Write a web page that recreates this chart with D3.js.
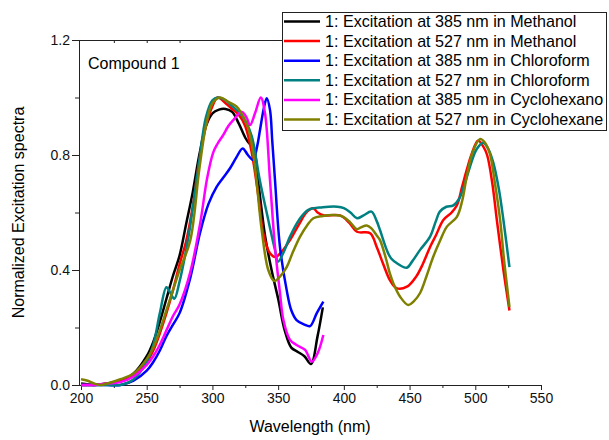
<!DOCTYPE html>
<html>
<head>
<meta charset="utf-8">
<script src="https://cdn.jsdelivr.net/npm/d3@7"></script>
<style>
  body { margin: 0; background: #fff; }
  svg { font-family: Arial, "Liberation Sans", sans-serif; }
</style>
</head>
<body>
<svg id="chart"></svg>
<script>
const width = 609;
const height = 440;

// wavelength (nm), normalized intensity
const black385Methanol = [[200,0.005],[210,0.0],[220,0.005],[230,0.015],[240,0.04],[250,0.1],[255,0.15],[260,0.22],[265,0.3],[270,0.38],[275,0.45],[280,0.56],[285,0.67],[290,0.8],[295,0.9],[300,0.945],[305,0.958],[310,0.96],[315,0.95],[320,0.91],[325,0.86],[328,0.84],[331,0.83],[335,0.7],[340,0.52],[345,0.4],[350,0.3],[355,0.19],[360,0.13],[365,0.115],[370,0.1],[375,0.073],[380,0.17],[384,0.27]];
const red527Methanol = [[200,0.0],[210,0.0],[220,0.005],[230,0.015],[240,0.035],[250,0.08],[255,0.12],[260,0.18],[265,0.25],[270,0.33],[275,0.42],[280,0.5],[285,0.62],[290,0.78],[295,0.9],[300,0.97],[304,1.0],[310,0.98],[315,0.96],[320,0.94],[325,0.9],[330,0.806],[335,0.655],[338.7,0.528],[343.8,0.458],[348,0.445],[352,0.46],[359,0.504],[366,0.56],[372,0.603],[376.8,0.615],[380,0.6],[385,0.59],[397,0.59],[404,0.565],[410,0.533],[420,0.528],[425,0.48],[430,0.42],[435,0.365],[440,0.337],[448,0.342],[455,0.377],[460,0.42],[465.6,0.48],[470,0.52],[475.7,0.574],[482,0.6],[486,0.625],[490,0.69],[493.5,0.748],[497,0.8],[502,0.85],[506,0.83],[509,0.8],[513,0.7],[516.4,0.574],[521.4,0.4],[526,0.259]];
const blue385Chloroform = [[200,0.0],[210,0.0],[220,0.0],[230,0.0],[240,0.015],[250,0.05],[255,0.08],[260,0.12],[265,0.17],[270,0.21],[275,0.25],[283,0.37],[290.6,0.53],[297,0.63],[303.3,0.69],[308,0.72],[313.4,0.754],[318,0.79],[323,0.823],[327,0.8],[331,0.783],[334,0.83],[336.2,0.887],[339,0.96],[341.3,0.997],[343.8,0.957],[345.5,0.85],[347.6,0.713],[351.4,0.48],[356.5,0.33],[360,0.26],[364,0.226],[370,0.21],[374.3,0.205],[379.4,0.25],[384.4,0.29]];
const teal527Chloroform = [[200,0.0],[210,0.0],[220,0.0],[230,0.0],[240,0.02],[250,0.08],[255,0.14],[260,0.25],[265,0.34],[268,0.32],[271,0.3],[275,0.36],[280,0.47],[283,0.55],[290,0.78],[295,0.93],[300,0.99],[304,1.0],[310,0.99],[315,0.97],[321,0.945],[326,0.91],[330,0.864],[336,0.713],[342.5,0.574],[347.6,0.47],[350,0.429],[354,0.46],[359,0.516],[366,0.575],[373,0.609],[384,0.618],[395,0.62],[400,0.615],[405,0.6],[410,0.58],[415,0.59],[421,0.603],[425,0.57],[427.5,0.539],[432.6,0.47],[436,0.44],[441.5,0.42],[447.9,0.408],[452,0.43],[458,0.47],[465.6,0.516],[470,0.57],[473,0.603],[478,0.62],[483.3,0.625],[488,0.65],[492,0.7],[496,0.76],[501,0.82],[506,0.843],[510,0.82],[513.8,0.772],[518,0.68],[521.4,0.574],[526,0.41]];
const magenta385Cyclohexane = [[200,0.0],[210,0.0],[220,0.005],[230,0.01],[240,0.03],[250,0.07],[255,0.1],[260,0.14],[265,0.19],[270,0.24],[275,0.28],[283,0.39],[290.6,0.56],[296,0.72],[300.7,0.81],[304,0.84],[308.3,0.87],[312,0.9],[316,0.922],[322.3,0.95],[326,0.93],[328.6,0.904],[332.4,0.945],[336.8,1.0],[340,0.945],[343.8,0.713],[347.6,0.48],[351.4,0.32],[354,0.226],[359,0.157],[364,0.139],[370.5,0.122],[375.6,0.081],[380,0.11],[384.4,0.174]];
const olive527Cyclohexane = [[200,0.02],[205,0.015],[210,0.005],[215,0.0],[220,0.005],[230,0.02],[240,0.04],[250,0.09],[255,0.13],[260,0.19],[265,0.26],[270,0.33],[275,0.4],[283,0.5],[290,0.75],[295,0.9],[300,0.98],[305.8,1.0],[312,0.985],[318.5,0.968],[322,0.945],[326,0.91],[329,0.86],[332.4,0.76],[337.5,0.539],[342.5,0.4],[347,0.362],[351,0.375],[356.5,0.41],[361,0.46],[366.7,0.516],[372,0.555],[376.8,0.58],[384,0.588],[392,0.591],[399.6,0.585],[405,0.565],[409.8,0.542],[413,0.548],[417.4,0.555],[421,0.545],[425,0.52],[427.5,0.504],[432,0.44],[435,0.388],[438,0.35],[442.8,0.307],[449,0.278],[453,0.29],[458,0.32],[463,0.38],[468,0.446],[473,0.5],[478.3,0.55],[486,0.585],[490,0.64],[493.5,0.725],[498,0.81],[503.7,0.856],[507,0.845],[511,0.806],[515,0.7],[518.9,0.574],[522,0.43],[526,0.272]];

const seriesNames = [
  '1: Excitation at 385 nm in Methanol',
  '1: Excitation at 527 nm in Methanol',
  '1: Excitation at 385 nm in Chloroform',
  '1: Excitation at 527 nm in Chloroform',
  '1: Excitation at 385 nm in Cyclohexano',
  '1: Excitation at 527 nm in Cyclohexane'
];
const seriesValues = [black385Methanol, red527Methanol, blue385Chloroform, teal527Chloroform, magenta385Cyclohexane, olive527Cyclohexane];
const seriesColors = ['#000000', '#ff0000', '#0000ff', '#008080', '#ff00ff', '#808000'];

const xTicks = [200, 250, 300, 350, 400, 450, 500, 550];
const yTicks = [0.0, 0.4, 0.8, 1.2];

const plotLeft = 79, plotRight = 541, plotTop = 40, plotBottom = 385;

const svg = d3.select('#chart')
  .attr('width', width)
  .attr('height', height);

const x = d3.scaleLinear().domain([200, 550]).range([plotLeft + 2, plotRight]);
const y = d3.scaleLinear().domain([0, 1.2]).range([plotBottom, plotTop]);

// minor ticks
svg.append('g')
  .attr('transform', `translate(0,${plotBottom})`)
  .call(d3.axisBottom(x).tickValues(d3.range(225, 550, 50)).tickSize(3).tickFormat(''))
  .call(g => g.select('.domain').remove());
svg.append('g')
  .attr('transform', `translate(${plotLeft},0)`)
  .call(d3.axisLeft(y).tickValues([0.2, 0.6, 1.0]).tickSize(4).tickFormat(''))
  .call(g => g.select('.domain').remove());
svg.append('g')
  .attr('transform', `translate(0,${plotTop})`)
  .call(d3.axisBottom(x).tickValues(d3.range(225, 300, 25)).tickSize(3).tickFormat(''))
  .call(g => g.select('.domain').remove());

const xAxis = svg.append('g')
  .attr('transform', `translate(0,${plotBottom})`)
  .call(d3.axisBottom(x).tickValues(xTicks).tickSize(5).tickPadding(3).tickFormat(d3.format('d')));
xAxis.select('.domain').attr('d', `M${plotLeft},0.5H${plotRight}`);

const yAxis = svg.append('g')
  .attr('transform', `translate(${plotLeft},0)`)
  .call(d3.axisLeft(y).tickValues(yTicks).tickSize(7).tickPadding(2).tickFormat(d3.format('.1f')));
yAxis.select('.domain').attr('d', `M0.5,${plotBottom}V${plotTop}`);

svg.selectAll('.tick text').attr('font-size', 14).attr('font-family', 'Arial, "Liberation Sans", sans-serif').attr('fill', '#111');
svg.selectAll('.tick line').attr('stroke', '#222');
svg.selectAll('.domain').attr('stroke', '#222');

// top frame line
svg.append('line')
  .attr('x1', plotLeft).attr('x2', 282)
  .attr('y1', plotTop + 0.5).attr('y2', plotTop + 0.5)
  .attr('stroke', '#222');

const line = d3.line()
  .x(d => x(d[0]))
  .y(d => y(d[1]))
  .curve(d3.curveCatmullRom.alpha(0.5));

svg.append('g')
  .selectAll('path')
  .data(seriesValues)
  .join('path')
  .attr('d', line)
  .attr('fill', 'none')
  .attr('stroke', (d, i) => seriesColors[i])
  .attr('stroke-width', 2.5)
  .attr('stroke-linejoin', 'round');

svg.append('text')
  .attr('x', 88).attr('y', 69)
  .attr('font-size', 16)
  .text('Compound 1');

svg.append('text')
  .attr('x', 310).attr('y', 432)
  .attr('text-anchor', 'middle')
  .attr('font-size', 16)
  .text('Wavelength (nm)');

svg.append('text')
  .attr('transform', `translate(24,${(plotTop + plotBottom) / 2}) rotate(-90)`)
  .attr('text-anchor', 'middle')
  .attr('font-size', 16)
  .text('Normalized Excitation spectra');

// legend
const legX = 282, legY = 12, legW = 324, legH = 118;
svg.append('clipPath').attr('id', 'legclip')
  .append('rect').attr('x', 0).attr('y', -12).attr('width', legW).attr('height', legH);
const legend = svg.append('g');
legend.append('rect')
  .attr('x', legX + 0.5).attr('y', legY + 0.5)
  .attr('width', legW).attr('height', legH)
  .attr('fill', '#fff').attr('stroke', '#222');
const rows = legend.selectAll('g.row')
  .data(seriesNames)
  .join('g')
  .attr('class', 'row')
  .attr('transform', (d, i) => `translate(${legX},${legY + 9.5 + i * 19.6})`);
rows.append('line')
  .attr('x1', 2).attr('x2', 38)
  .attr('stroke', (d, i) => seriesColors[i])
  .attr('stroke-width', 2.5);
rows.append('text')
  .attr('x', 43).attr('y', 5.5)
  .attr('font-size', 16.1)
  .attr('clip-path', 'url(#legclip)')
  .text(d => d);
</script>
</body>
</html>
